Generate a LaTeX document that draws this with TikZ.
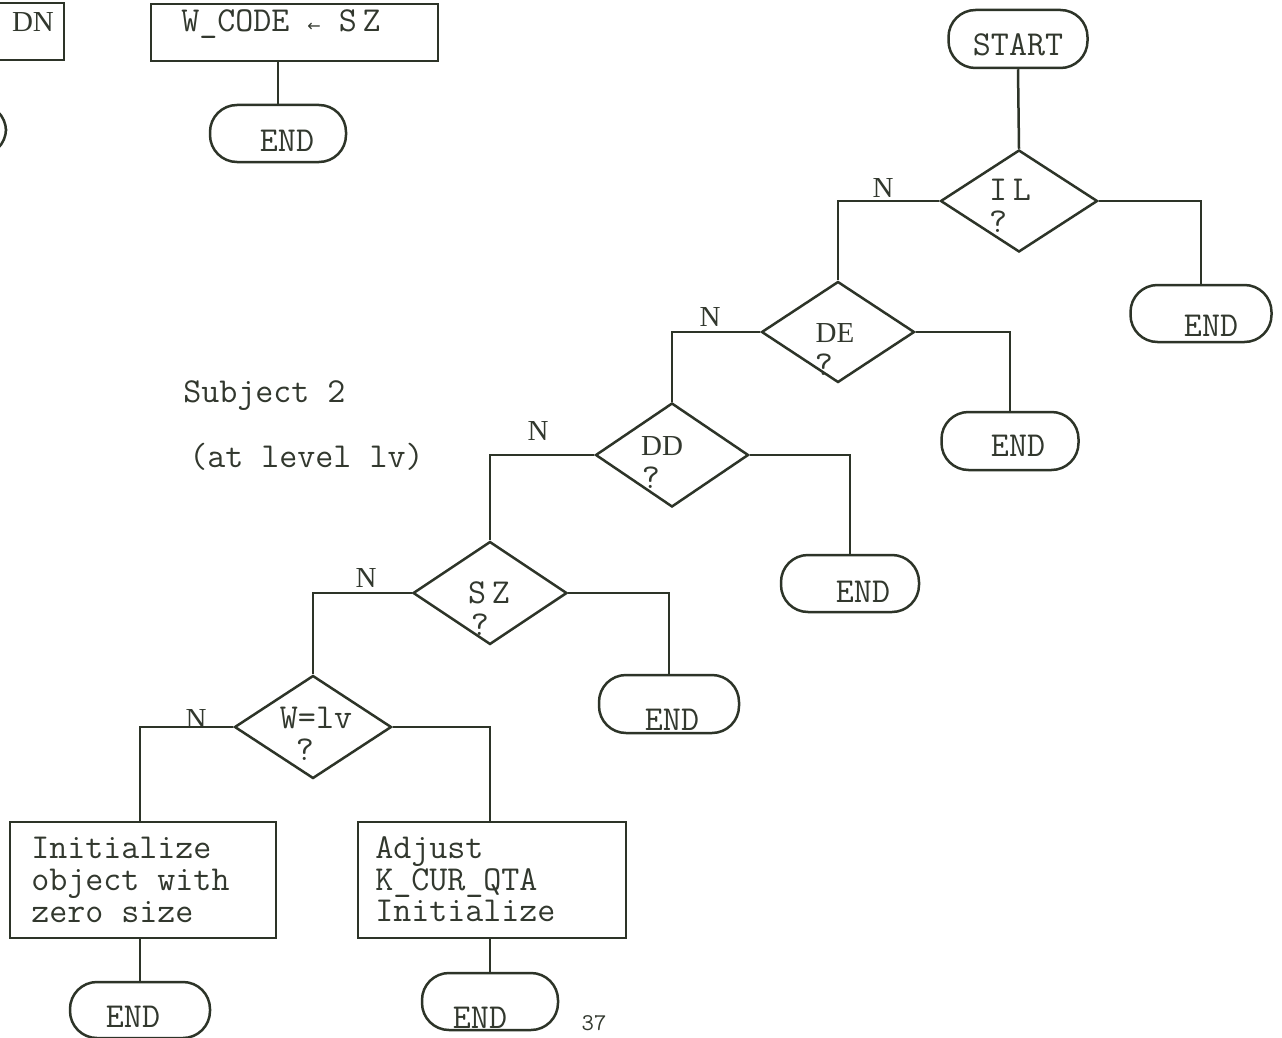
\documentclass[tikz,border=0pt]{standalone}
\usepackage{fontspec}
\setmainfont{Liberation Serif}
\newfontfamily\arrowfont{DejaVu Sans}
\usetikzlibrary{shapes.geometric}
\definecolor{ink}{RGB}{45,52,40}
\definecolor{txt}{RGB}{50,56,46}
\begin{document}
\begin{tikzpicture}[x=1pt,y=-1pt,
  line width=2.5pt,
  term/.style={draw=ink, rectangle, rounded corners=27pt, inner sep=0pt, minimum width=138pt, minimum height=57pt},
  dec/.style={draw=ink, diamond, inner sep=0pt, minimum width=155pt, minimum height=102pt},
  proc/.style={draw=ink, rectangle, inner sep=0pt},
  mono/.style={text=txt, inner sep=0pt, anchor=base, font=\ttfamily\fontsize{35}{37}\selectfont},
  monol/.style={mono, anchor=base west, text height=20pt, text depth=5pt},
  rom/.style={text=txt, inner sep=0pt, anchor=base, font=\fontsize{29}{31}\selectfont},
  conn/.style={draw=ink, line width=2.5pt}]
\useasboundingbox (0,0) rectangle (1282,1038);
\clip (0,0) rectangle (1282,1038);
\fill[white] (0,0) rectangle (1282,1038);

% top-left partial elements
\node[proc, minimum width=104pt, minimum height=57pt] (bDN) at (12,31.5) {};
\node[rom] (tDN) at (33,32) {DN};
\node[term, minimum width=140pt, minimum height=52pt] (ePart) at (-64,130) {};

% W_CODE box and its END
\node[proc, minimum width=287pt, minimum height=57pt] (bW) at (294.5,32.5) {};
\node[monol] (tW) at (180,32) {W\_CODE {\arrowfont\fontsize{16}{16}\selectfont ←} S\,Z};
\node[term, minimum width=136pt] (eW) at (278,133.5) {};
\node[mono] (teW) at (287,152) {END};
\draw[conn] (bW.south -| eW.north) -- (eW.north);

% START and decisions
\node[term, minimum width=139pt, minimum height=58pt] (tStart) at (1018,39) {};
\node[mono] (ttStart) at (1018,56) {START};

\node[dec, minimum width=157pt] (dIL) at (1019,201) {};
\node[mono] (tIL1) at (1010,200) {I\,L};
\node[mono] (tIL2) at (998,232) {?};

\node[dec, minimum width=153pt, minimum height=101pt] (dDE) at (838,332) {};
\node[rom] (tDE1) at (835,342) {DE};
\node[mono] (tDE2) at (824,375) {?};

\node[dec, minimum width=153pt, minimum height=104pt] (dDD) at (672,455) {};
\node[rom] (tDD1) at (662,455) {DD};
\node[mono] (tDD2) at (651,488) {?};

\node[dec, minimum width=154pt, minimum height=103pt] (dSZ) at (490,593) {};
\node[mono] (tSZ1) at (489,603) {S\,Z};
\node[mono] (tSZ2) at (480,635) {?};

\node[dec, minimum width=157pt, minimum height=103pt] (dW) at (313,727) {};
\node[mono] (tW1) at (316,728) {W=lv};
\node[mono] (tW2) at (305,760) {?};

% END terminals on the right branches
\node[term, minimum width=141pt] (eIL) at (1201,313.5) {};
\node[mono] (teIL) at (1211,336) {END};
\node[term, minimum width=137pt, minimum height=58pt] (eDE) at (1010,441) {};
\node[mono] (teDE) at (1018,456) {END};
\node[term, minimum width=138pt] (eDD) at (850,583.5) {};
\node[mono] (teDD) at (863,602) {END};
\node[term, minimum width=140pt, minimum height=58pt] (eSZ) at (669,704) {};
\node[mono] (teSZ) at (672,730) {END};

% N labels
\node[rom] (nIL) at (883,197) {N};
\node[rom] (nDE) at (710,326) {N};
\node[rom] (nDD) at (538,440) {N};
\node[rom] (nSZ) at (366,587) {N};
\node[rom] (nW) at (196,728) {N};

% process boxes at the bottom
\node[proc, minimum width=266pt, minimum height=116pt] (bL) at (143,880) {};
\node[monol] (tL1) at (30,858) {Initialize};
\node[monol] (tL2) at (30,890) {object with};
\node[monol] (tL3) at (30,922) {zero size};
\node[proc, minimum width=268pt, minimum height=116pt] (bR) at (492,880) {};
\node[monol] (tR1) at (374,858) {Adjust};
\node[monol] (tR2) at (374,890) {K\_CUR\_QTA};
\node[monol] (tR3) at (374,921) {Initialize};

\node[term, minimum width=140pt, minimum height=56pt] (eL) at (140,1010) {};
\node[mono] (teL) at (133,1027) {END};
\node[term, minimum width=136pt] (eR) at (490,1001.5) {};
\node[mono] (teR) at (480,1028) {END};

% side texts
\node[monol] (sub1) at (182,402) {Subject 2};
\node[monol] (sub2) at (188,467) {(at level lv)};
\node[mono, font=\ttfamily\fontsize{24}{26}\selectfont] (page) at (594,1030) {37};

% connectors
\draw[conn] (tStart.south) -- (dIL.north);
\draw[conn] (dIL.west) -| (dDE.north);
\draw[conn] (dIL.east) -| (eIL.north);
\draw[conn] (dDE.west) -| (dDD.north);
\draw[conn] (dDE.east) -| (eDE.north);
\draw[conn] (dDD.west) -| (dSZ.north);
\draw[conn] (dDD.east) -| (eDD.north);
\draw[conn] (dSZ.west) -| (dW.north);
\draw[conn] (dSZ.east) -| (eSZ.north);
\draw[conn] (dW.west) -| (bL.north -| eL.north);
\draw[conn] (dW.east) -| (bR.north -| eR.north);
\draw[conn] (bL.south -| eL.north) -- (eL.north);
\draw[conn] (bR.south -| eR.north) -- (eR.north);
\end{tikzpicture}
\end{document}
